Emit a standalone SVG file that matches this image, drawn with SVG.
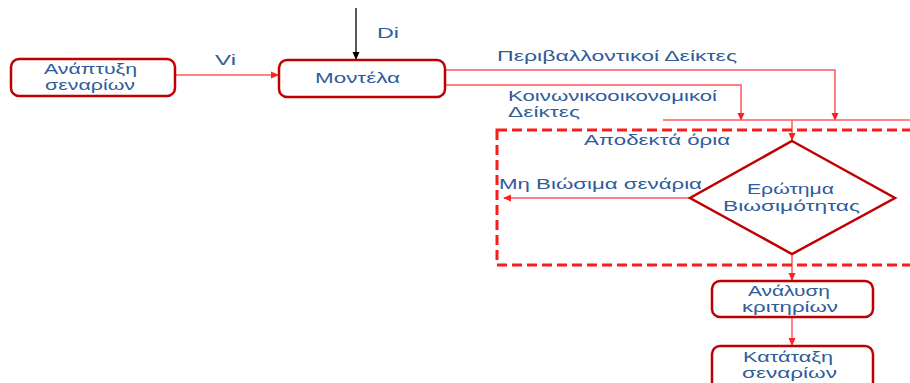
<svg xmlns="http://www.w3.org/2000/svg" width="910" height="383" viewBox="0 0 910 383">
<style>
.box{fill:#fff;stroke:#C00000;stroke-width:2.5}
.t{font-family:"Liberation Sans","Open Sans",sans-serif;font-size:14px;fill:#2F5C9A}
.c{fill:none;stroke:#FF5A5A;stroke-width:1.5}
</style>
<defs>
<marker id="ar" markerWidth="8" markerHeight="8" refX="7" refY="4" orient="auto" markerUnits="userSpaceOnUse"><path d="M0,0.5 L8,4 L0,7.5 Z" fill="#FF2020"/></marker>
<marker id="ab" markerWidth="8" markerHeight="8" refX="7" refY="4" orient="auto" markerUnits="userSpaceOnUse"><path d="M0,0.5 L8,4 L0,7.5 Z" fill="#000"/></marker>
</defs>
<rect width="910" height="383" fill="#fff"/>
<g id="connectors">
<line x1="356" y1="8" x2="356" y2="59" stroke="#000" stroke-width="1.3" marker-end="url(#ab)"/>
<line class="c" x1="175" y1="75" x2="278" y2="75" marker-end="url(#ar)"/>
<polyline class="c" points="445,70 835,70 835,120" marker-end="url(#ar)"/>
<polyline class="c" points="445,85 741,85 741,120" marker-end="url(#ar)"/>
<line class="c" x1="663" y1="120" x2="910" y2="120"/>
<line class="c" x1="792" y1="120" x2="792" y2="140" marker-end="url(#ar)"/>
<line class="c" x1="690" y1="198" x2="504" y2="198" marker-end="url(#ar)"/>
<line class="c" x1="792" y1="254" x2="792" y2="280" marker-end="url(#ar)"/>
<line class="c" x1="792" y1="317" x2="792" y2="345" marker-end="url(#ar)"/>
</g>
<g id="boundary">
<rect x="497" y="130" width="440" height="135" fill="none" stroke="#FF1A1A" stroke-width="3" stroke-dasharray="10,5"/>
</g>
<g id="labels">
<text class="t" x="215" y="65" textLength="21" lengthAdjust="spacingAndGlyphs">Vi</text>
<text class="t" x="377" y="38" textLength="22" lengthAdjust="spacingAndGlyphs">Di</text>
<text class="t" x="497" y="61" textLength="240" lengthAdjust="spacingAndGlyphs">Περιβαλλοντικοί Δείκτες</text>
<text class="t" x="508" y="101" textLength="209" lengthAdjust="spacingAndGlyphs">Κοινωνικοοικονομικοί</text>
<text class="t" x="508" y="117" textLength="72" lengthAdjust="spacingAndGlyphs">Δείκτες</text>
<text class="t" x="584" y="145" textLength="146" lengthAdjust="spacingAndGlyphs">Αποδεκτά όρια</text>
<text class="t" x="499" y="189" textLength="203" lengthAdjust="spacingAndGlyphs">Μη Βιώσιμα σενάρια</text>
</g>
<g id="n1">
<rect class="box" x="11" y="59" width="164" height="37" rx="8"/>
<text class="t" x="44" y="74" textLength="93" lengthAdjust="spacingAndGlyphs">Ανάπτυξη</text>
<text class="t" x="45" y="90" textLength="90" lengthAdjust="spacingAndGlyphs">σεναρίων</text>
</g>
<g id="n2">
<rect class="box" x="279" y="60" width="166" height="37" rx="8"/>
<text class="t" x="315" y="83" textLength="85" lengthAdjust="spacingAndGlyphs">Μοντέλα</text>
</g>
<g id="n3">
<polygon points="792,141 895,198 792,254 690,198" fill="#fff" stroke="#C00000" stroke-width="2.5"/>
<text class="t" x="747" y="194" textLength="87" lengthAdjust="spacingAndGlyphs">Ερώτημα</text>
<text class="t" x="723" y="211" textLength="137" lengthAdjust="spacingAndGlyphs">Βιωσιμότητας</text>
</g>
<g id="n4">
<rect class="box" x="712" y="281" width="161" height="36" rx="8"/>
<text class="t" x="748" y="296" textLength="82" lengthAdjust="spacingAndGlyphs">Ανάλυση</text>
<text class="t" x="742" y="312" textLength="96" lengthAdjust="spacingAndGlyphs">κριτηρίων</text>
</g>
<g id="n5">
<rect class="box" x="712" y="346" width="161" height="45" rx="8"/>
<text class="t" x="743" y="362" textLength="90" lengthAdjust="spacingAndGlyphs">Κατάταξη</text>
<text class="t" x="742" y="378" textLength="95" lengthAdjust="spacingAndGlyphs">σεναρίων</text>
</g>
</svg>
